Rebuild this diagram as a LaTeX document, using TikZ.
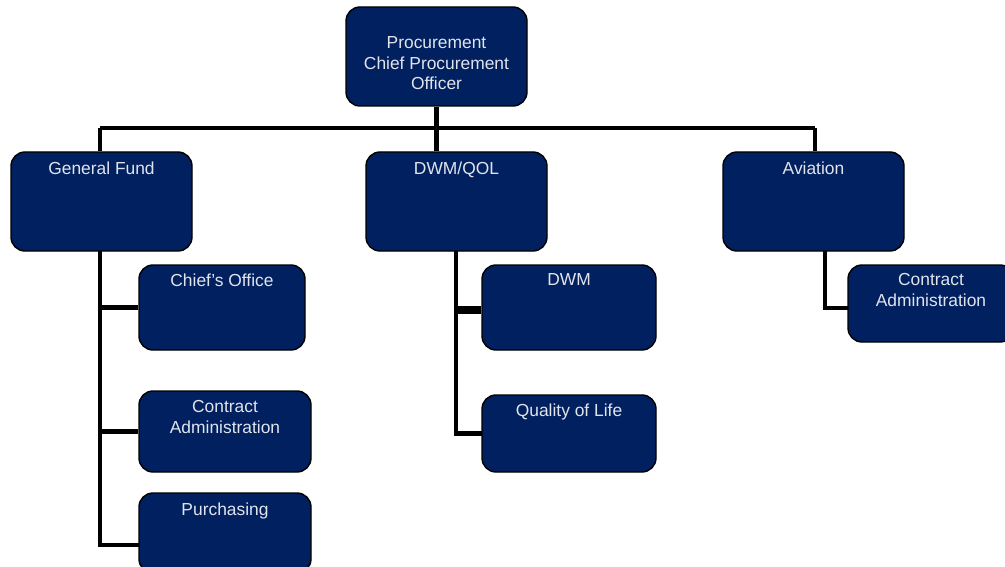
\documentclass[tikz,border=0pt]{standalone}
\usepackage{fontspec}
\setmainfont{Liberation Sans}
\usetikzlibrary{backgrounds}
\definecolor{navy}{RGB}{0,32,96}
\definecolor{labeltext}{RGB}{226,228,236}
\begin{document}
\begin{tikzpicture}[x=1pt,y=-1pt,
  unit/.style={draw=black, line width=1.4pt, fill=navy, rounded corners=14pt,
    inner sep=0pt, minimum width=#1},
  unittext/.style={text=labeltext, inner sep=0pt, anchor=north, align=center,
    font=\fontsize{17.4}{20.5}\selectfont},
  conn/.style={draw=black, line width=4.5pt},
  thickconn/.style={draw=black, line width=8pt}]
\useasboundingbox (0,0) rectangle (1005,567);

% units
\node[unit=181, minimum height=99] (cpo) at (436.5,56.5) {};
\node[unit=181, minimum height=99] (gf) at (101.5,201.5) {};
\node[unit=181, minimum height=99] (dq) at (456.5,201.5) {};
\node[unit=181, minimum height=99] (av) at (813.5,201.5) {};
\node[unit=166, minimum height=85] (chief) at (222,307.5) {};
\node[unit=172, minimum height=81] (gfca) at (225,431.5) {};
\node[unit=172, minimum height=80] (purch) at (225,533) {};
\node[unit=174, minimum height=85] (dwm) at (569,307.5) {};
\node[unit=174, minimum height=77] (qol) at (569,433.5) {};
\node[unit=166, minimum height=77] (avca) at (931,303.5) {};

% labels
\node[unittext] (cpot) at (436.5,36.5) {Procurement\\Chief Procurement\\Officer};
\node[unittext] (gft) at ([yshift=-10.5]gf.north) {General Fund};
\node[unittext] (dqt) at ([yshift=-10.5]dq.north) {DWM/QOL};
\node[unittext] (avt) at ([yshift=-10.5]av.north) {Aviation};
\node[unittext] (chieft) at ([yshift=-9]chief.north) {Chief’s Office};
\node[unittext] (gfcat) at ([yshift=-10]gfca.north) {Contract\\Administration};
\node[unittext] (purcht) at ([yshift=-10]purch.north) {Purchasing};
\node[unittext] (dwmt) at ([yshift=-9]dwm.north) {DWM};
\node[unittext] (qolt) at ([yshift=-9]qol.north) {Quality of Life};
\node[unittext] (avcat) at ([yshift=-9]avca.north) {Contract\\Administration};

% reporting lines
\coordinate (busL) at (100,128);
\coordinate (busR) at (815,128);
\coordinate (gfx) at (100,0);
\coordinate (dqx) at (456,0);
\coordinate (avx) at (825,0);
\begin{scope}[on background layer]
  \draw[conn] (busL) -- (busR);
  \draw[conn] (cpo.south) -- (cpo.south |- dq.north);
  \draw[conn] (busL) -- (busL |- gf.north);
  \draw[conn] (busR) -- (busR |- av.north);
  % General Fund
  \draw[conn, line cap=rect] (gf.south -| gfx) -- (gfx |- 0,545) -- ([yshift=-12]purch.west);
  \draw[conn] (gfx |- chief.west) -- (chief.west);
  \draw[conn] (gfx |- gfca.west) -- (gfca.west);
  % DWM/QOL
  \draw[conn, line cap=rect] (dq.south -| dqx) -- (dqx |- qol.west) -- (qol.west);
  \draw[thickconn] (dqx |- 0,310) -- ([yshift=-2.5]dwm.west);
  % Aviation
  \draw[conn, line cap=rect] (av.south -| avx) -- (avx |- 0,308) -- ([yshift=-4.5]avca.west);
\end{scope}
\end{tikzpicture}
\end{document}
